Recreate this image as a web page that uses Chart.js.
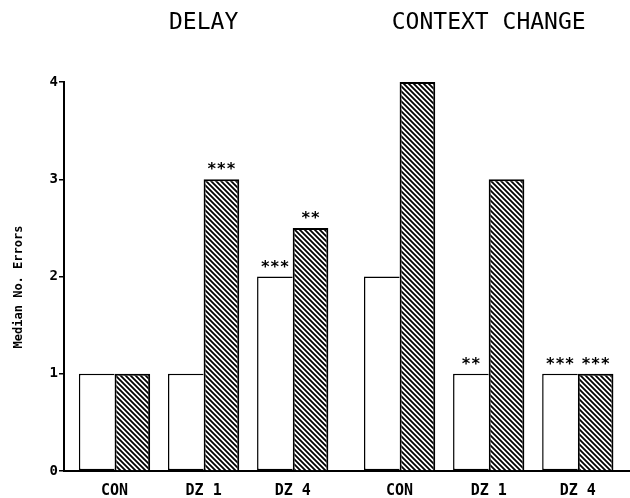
<!DOCTYPE html>
<html>
<head>
<meta charset="utf-8">
<script src="https://cdn.jsdelivr.net/npm/chart.js@4"></script>
<style>
  html, body { margin: 0; padding: 0; background: #fff; }
  #grafica { display: block; }
</style>
</head>
<body>
<canvas id="grafica" width="630" height="498"></canvas>
<script>
const etiquetas = ['CON', 'DZ 1', 'DZ 4', 'CON', 'DZ 1', 'DZ 4'];
const posiciones = [1, 2, 3, 4.2, 5.2, 6.2];
const barrasBlancas = [1, 1, 2, 2, 1, 1];
const barrasRayadas = [1, 3, 2.5, 4, 3, 1];
const asteriscosBlancas = ['', '', '***', '', '**', '***'];
const asteriscosRayadas = ['', '***', '**', '', '', '***'];
const paneles = ['DELAY', 'CONTEXT CHANGE'];
const centrosPaneles = [2, 5.2];
const tituloY = 'Median No. Errors';

const fuente = '"DejaVu Sans Mono", monospace';

function crearRayado() {
  const c = document.createElement('canvas');
  c.width = 5;
  c.height = 5;
  const ctx = c.getContext('2d');
  ctx.fillStyle = '#fff';
  ctx.fillRect(0, 0, 5, 5);
  ctx.strokeStyle = '#000';
  ctx.lineWidth = 1.8;
  ctx.beginPath();
  ctx.moveTo(-1, -1); ctx.lineTo(6, 6);
  ctx.moveTo(-1, 4); ctx.lineTo(1, 6);
  ctx.moveTo(4, -1); ctx.lineTo(6, 1);
  ctx.stroke();
  return ctx.createPattern(c, 'repeat');
}

// textos: titulos de panel, asteriscos y titulo del eje y
const anotaciones = {
  id: 'anotaciones',
  afterDatasetsDraw(chart) {
    const { ctx, scales: { x } } = chart;
    ctx.save();
    ctx.fillStyle = '#000';
    ctx.textAlign = 'center';

    ctx.font = '23px ' + fuente;
    ctx.textBaseline = 'middle';
    paneles.forEach((t, i) => ctx.fillText(t, x.getPixelForValue(centrosPaneles[i]), 23));

    ctx.font = 'bold 16px ' + fuente;
    ctx.textBaseline = 'alphabetic';
    [asteriscosBlancas, asteriscosRayadas].forEach((marcas, d) => {
      chart.getDatasetMeta(d).data.forEach((barra, i) => {
        if (marcas[i]) ctx.fillText(marcas[i], barra.x, barra.y - 5);
      });
    });

    ctx.translate(19, 287);
    ctx.rotate(-Math.PI / 2);
    ctx.font = 'bold 12px ' + fuente;
    ctx.textBaseline = 'middle';
    ctx.fillText(tituloY, 0, 0);
    ctx.restore();
  }
};

new Chart(document.getElementById('grafica'), {
  type: 'bar',
  data: {
    datasets: [
      {
        data: posiciones.map((p, i) => ({ x: p, y: barrasBlancas[i] })),
        backgroundColor: '#fff',
        borderColor: '#000',
        borderWidth: 1.5,
        borderSkipped: 'right'
      },
      {
        data: posiciones.map((p, i) => ({ x: p, y: barrasRayadas[i] })),
        backgroundColor: crearRayado(),
        borderColor: '#000',
        borderWidth: 2,
        borderSkipped: 'bottom'
      }
    ]
  },
  options: {
    responsive: false,
    animation: false,
    events: [],
    categoryPercentage: 0.8,
    barPercentage: 1,
    layout: { padding: { top: 82, right: 0, bottom: 0, left: 0 } },
    plugins: { legend: { display: false }, tooltip: { enabled: false } },
    scales: {
      x: {
        type: 'linear',
        min: 0.433,
        max: 6.786,
        offset: false,
        grid: { display: false, drawTicks: false },
        border: { color: '#000', width: 2 },
        afterBuildTicks: (s) => { s.ticks = posiciones.map(v => ({ value: v })); },
        afterFit: (s) => { s.height = 27; },
        ticks: {
          autoSkip: false,
          maxRotation: 0,
          padding: 11,
          color: '#000',
          font: { family: fuente, size: 15, weight: 'bold' },
          callback: (v) => etiquetas[posiciones.indexOf(v)]
        }
      },
      y: {
        min: 0,
        max: 4,
        afterFit: (s) => { s.width = 64; },
        grid: { drawOnChartArea: false, tickLength: 5, color: '#000', lineWidth: 1.5 },
        border: { color: '#000', width: 2 },
        ticks: {
          stepSize: 1,
          padding: 1,
          color: '#000',
          font: { family: fuente, size: 14, weight: 'bold' }
        }
      }
    }
  },
  plugins: [anotaciones]
});
</script>
</body>
</html>
